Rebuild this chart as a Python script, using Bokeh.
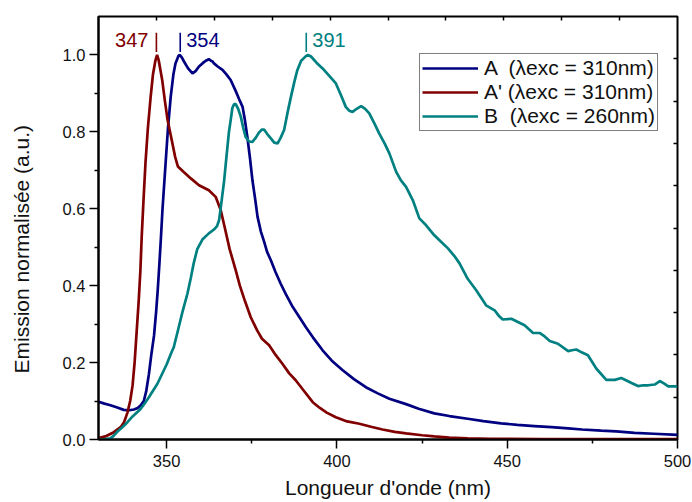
from bokeh.plotting import figure
from bokeh.models import (Range1d, LinearAxis, FixedTicker, PrintfTickFormatter,
                          Legend, LegendItem, Title, CustomJSTickFormatter)
from bokeh.core.properties import value
from bokeh.embed import file_html
from bokeh.resources import INLINE

FONT = "Liberation Sans"

# ---- data: A (lambda exc = 310 nm)
wl_A = [330, 331.5, 333.5, 335.5, 337.4, 339, 340.4, 341.5, 342.4, 343.3, 344, 344.8, 345.5,
        346.3, 346.9, 347.4, 347.9, 348.3, 348.8, 349.7, 350.4, 351.2, 352, 352.6, 353.5, 353.9,
        354.5, 355.1, 356.3, 357.6, 358.5, 359.5, 360.5, 361.5, 362.4, 363, 363.5, 363.9, 365,
        366.4, 367.5, 368.8, 370.3, 371.3, 372.3, 373, 373.7, 374.5, 375.2, 376, 376.7, 377.7,
        378.6, 379.5, 380.6, 382, 383.5, 385, 387, 389, 390.9, 393, 395.8, 398.5, 401.7, 405,
        408.5, 412, 415.4, 420.3, 424, 428.6, 433, 438.4, 443, 448.2, 453, 458, 463, 467.9, 472,
        477.6, 482, 487.4, 493, 500]
em_A = [0.098, 0.094, 0.089, 0.083, 0.077, 0.076, 0.078, 0.082, 0.089, 0.100, 0.125, 0.170, 0.220,
        0.270, 0.330, 0.390, 0.460, 0.520, 0.600, 0.718, 0.810, 0.891, 0.950, 0.978, 0.998, 1.000,
        0.993, 0.983, 0.965, 0.952, 0.958, 0.970, 0.978, 0.985, 0.989, 0.985, 0.983, 0.978, 0.970,
        0.961, 0.950, 0.935, 0.906, 0.885, 0.865, 0.830, 0.787, 0.730, 0.674, 0.625, 0.579, 0.540,
        0.515, 0.488, 0.466, 0.435, 0.405, 0.378, 0.345, 0.318, 0.292, 0.265, 0.232, 0.205, 0.180,
        0.157, 0.136, 0.120, 0.106, 0.092, 0.080, 0.068, 0.061, 0.054, 0.048, 0.042, 0.038, 0.035,
        0.032, 0.029, 0.026, 0.023, 0.021, 0.017, 0.015, 0.012]

# ---- data: A' (lambda exc = 310 nm)
wl_Ap = [330, 332, 334.5, 336.5, 337.5, 338.5, 339.3, 340, 340.6, 341.2, 341.8, 342.3, 342.7,
         343.2, 343.8, 344.5, 345.3, 346, 346.7, 347.2, 347.7, 348.7, 349.5, 350.3, 351.5, 352.5,
         353.3, 355.1, 357.1, 359.5, 362.4, 364.4, 365.9, 367.1, 368.5, 370.3, 371.5, 373, 374.7,
         376.5, 378, 380.1, 382, 384, 386, 387.9, 390, 392.9, 395, 397, 399.7, 403, 406.6, 410,
         413.4, 417, 420.3, 425, 428.6, 433, 438.4, 445, 460, 480, 500]
em_Ap = [0.004, 0.008, 0.019, 0.032, 0.045, 0.070, 0.100, 0.140, 0.200, 0.280, 0.360, 0.440, 0.530,
         0.620, 0.720, 0.810, 0.890, 0.950, 0.985, 1.000, 0.985, 0.935, 0.880, 0.830, 0.779, 0.735,
         0.710, 0.695, 0.679, 0.661, 0.648, 0.631, 0.596, 0.550, 0.495, 0.440, 0.400, 0.360, 0.318,
         0.285, 0.262, 0.245, 0.220, 0.197, 0.172, 0.154, 0.130, 0.097, 0.082, 0.070, 0.058, 0.047,
         0.041, 0.033, 0.026, 0.020, 0.016, 0.011, 0.008, 0.005, 0.003, 0.002, 0.001, 0.001, 0.001]

# ---- data: B (lambda exc = 260 nm)
wl_B = [330, 331, 332, 333.5, 334.5, 335.5, 337, 338.5, 340, 341.5, 342.4, 343.5, 344.8, 346,
        347.3, 348.7, 350, 351.5, 352.1, 353.5, 354.6, 356.1, 357.1, 358, 359, 360.5, 362.4, 363.9,
        364.8, 365.4, 366, 366.9, 367.4, 368.3, 368.8, 369.3, 369.8, 370.3, 371, 371.8, 372.5,
        373.2, 374.2, 375.2, 376.2, 377.1, 378, 378.6, 379.5, 380.6, 381.6, 382.6, 383.5, 384.5,
        385.5, 386.5, 387.5, 388.4, 389.5, 390.9, 391.5, 392.4, 394, 395.8, 397.5, 399.7, 401.2,
        402.6, 403.6, 404.6, 405.8, 407.1, 408.3, 409.5, 411, 412.4, 414, 415.4, 417.4, 418.8,
        420.3, 422.3, 424.2, 426.2, 428.6, 430.5, 432.6, 434.5, 436, 438.4, 440.9, 443.8, 446.3,
        447.5, 448.7, 450, 451.2, 453, 455.1, 457.6, 459.5, 461, 462.5, 464.9, 467.9, 469, 470.3,
        472, 473.7, 476.2, 479.1, 481.6, 483.5, 486.5, 488.4, 490, 491.4, 493.3, 494.8, 496, 497.3,
        500]
em_B = [0.000, 0.000, 0.001, 0.003, 0.010, 0.020, 0.032, 0.045, 0.060, 0.072, 0.080, 0.093, 0.110,
        0.127, 0.145, 0.171, 0.195, 0.228, 0.240, 0.290, 0.330, 0.379, 0.420, 0.460, 0.495, 0.520,
        0.536, 0.546, 0.555, 0.570, 0.610, 0.674, 0.720, 0.800, 0.830, 0.862, 0.872, 0.872, 0.860,
        0.839, 0.810, 0.787, 0.775, 0.774, 0.785, 0.798, 0.806, 0.806, 0.795, 0.783, 0.772, 0.770,
        0.785, 0.805, 0.850, 0.891, 0.930, 0.961, 0.985, 0.997, 1.000, 0.996, 0.980, 0.965, 0.948,
        0.926, 0.895, 0.865, 0.855, 0.852, 0.860, 0.867, 0.860, 0.848, 0.822, 0.796, 0.770, 0.744,
        0.696, 0.674, 0.657, 0.622, 0.575, 0.557, 0.531, 0.515, 0.497, 0.477, 0.458, 0.418, 0.388,
        0.349, 0.336, 0.322, 0.312, 0.313, 0.314, 0.306, 0.297, 0.277, 0.277, 0.268, 0.256, 0.249,
        0.230, 0.232, 0.234, 0.226, 0.219, 0.184, 0.155, 0.155, 0.160, 0.147, 0.139, 0.141, 0.141,
        0.143, 0.152, 0.146, 0.138, 0.138]

series_labels = ["A  (\u03bbexc = 310nm)", "A' (\u03bbexc = 310nm)", "B  (\u03bbexc = 260nm)"]
series_colors = ["#000080", "#800000", "#008080"]

# peak annotations
peak_wl = [347, 354, 391]
peak_text = ["347", "354", "391"]
peak_colors = ["#800000", "#000080", "#008080"]

x_major = [350, 400, 450, 500]
x_minor = [375, 425, 475]
y_major = [0.0, 0.2, 0.4, 0.6, 0.8, 1.0]
y_minor = [0.1, 0.3, 0.5, 0.7, 0.9]
x_min, x_max = 330, 500
y_min, y_max = 0.0, 1.1
top_ticks = [x_min + (x_max - x_min) * k / 10 for k in range(1, 10)]
right_ticks = [y_min + (y_max - y_min) * k / 10 for k in range(1, 10)]

p = figure(width=692, height=502, x_range=Range1d(x_min, x_max), y_range=Range1d(y_min, y_max),
           output_backend="svg", toolbar_location=None,
           min_border_left=98, min_border_right=15, min_border_top=16, min_border_bottom=63)
p.xgrid.visible = False
p.ygrid.visible = False
p.outline_line_color = "black"
p.outline_line_width = 2
p.background_fill_color = "white"
p.border_fill_color = "white"

# bottom axis
xa = p.xaxis[0]
xa.ticker = FixedTicker(ticks=x_major, minor_ticks=x_minor)
xa.axis_line_width = 2
xa.major_tick_out = 9
xa.major_tick_in = 0
xa.minor_tick_out = 4
xa.minor_tick_in = 0
xa.major_tick_line_width = 1.5
xa.minor_tick_line_width = 1.5
xa.major_label_text_font = FONT
xa.major_label_text_font_size = "16.5px"
xa.major_label_text_color = "#111111"
xa.major_label_standoff = 6
xa.axis_label = "Longueur d'onde (nm)"
xa.axis_label_text_font = FONT
xa.axis_label_text_font_size = "21px"
xa.axis_label_text_font_style = "normal"
xa.axis_label_text_color = "#111111"
xa.axis_label_standoff = 6

# left axis
ya = p.yaxis[0]
ya.ticker = FixedTicker(ticks=y_major, minor_ticks=y_minor)
ya.formatter = PrintfTickFormatter(format="%.1f")
ya.axis_line_width = 2
ya.major_tick_out = 9
ya.major_tick_in = 0
ya.minor_tick_out = 4
ya.minor_tick_in = 0
ya.major_tick_line_width = 1.5
ya.minor_tick_line_width = 1.5
ya.major_label_text_font = FONT
ya.major_label_text_font_size = "16.5px"
ya.major_label_text_color = "#111111"
ya.major_label_standoff = 4

# spacer between the tick labels and the y-axis title
spacer = Title(text=" ", text_font_size="1px", standoff=24)
p.add_layout(spacer, "left")
ytitle = Title(text="Emission normalisée (a.u.)", align="left", offset=66,
               vertical_align="bottom",
               text_font=FONT, text_font_size="21px", text_font_style="normal",
               text_color="#111111", standoff=0)
p.add_layout(ytitle, "left")

blank = CustomJSTickFormatter(code="return ''")
top_axis = LinearAxis(ticker=FixedTicker(ticks=top_ticks), formatter=blank,
                      major_tick_in=4, major_tick_out=0, minor_tick_in=0, minor_tick_out=0,
                      axis_line_color=None, major_tick_line_width=1.5,
                      major_label_standoff=0, major_label_text_font_size="1px")
p.add_layout(top_axis, "above")
right_axis = LinearAxis(ticker=FixedTicker(ticks=right_ticks), formatter=blank,
                        major_tick_in=4, major_tick_out=0, minor_tick_in=0, minor_tick_out=0,
                        axis_line_color=None, major_tick_line_width=1.5,
                        major_label_standoff=0, major_label_text_font_size="1px")
p.add_layout(right_axis, "right")

r_A = p.line(wl_A, em_A, line_color=series_colors[0], line_width=2.7)
r_Ap = p.line(wl_Ap, em_Ap, line_color=series_colors[1], line_width=2.7)
r_B = p.line(wl_B, em_B, line_color=series_colors[2], line_width=2.7)

# peak markers and labels
p.segment(x0=peak_wl, y0=[1.008] * 3, x1=peak_wl, y1=[1.058] * 3,
          line_color=peak_colors, line_width=1.6)
p.text(x=peak_wl[:1], y=[1.038], text=peak_text[:1], text_color=peak_colors[:1],
       text_align="right", text_baseline="alphabetic", x_offset=-8,
       text_font=value(FONT), text_font_size="20px")
p.text(x=peak_wl[1:], y=[1.038, 1.038], text=peak_text[1:], text_color=peak_colors[1:],
       text_align="left", text_baseline="alphabetic", x_offset=6,
       text_font=value(FONT), text_font_size="20px")

legend = Legend(items=[LegendItem(label=series_labels[0], renderers=[r_A]),
                       LegendItem(label=series_labels[1], renderers=[r_Ap]),
                       LegendItem(label=series_labels[2], renderers=[r_B])],
                location=(321, 308))
legend.border_line_color = "black"
legend.border_line_width = 1
legend.background_fill_color = "white"
legend.background_fill_alpha = 1
legend.label_text_font = FONT
legend.label_text_font_size = "21px"
legend.label_text_color = "#111111"
legend.glyph_width = 56
legend.glyph_height = 24
legend.label_height = 24
legend.label_width = 170
legend.spacing = 0
legend.padding = 2
legend.margin = 0
legend.label_standoff = 6
p.add_layout(legend, "center")

open("out.html", "w").write(file_html(p, INLINE))
